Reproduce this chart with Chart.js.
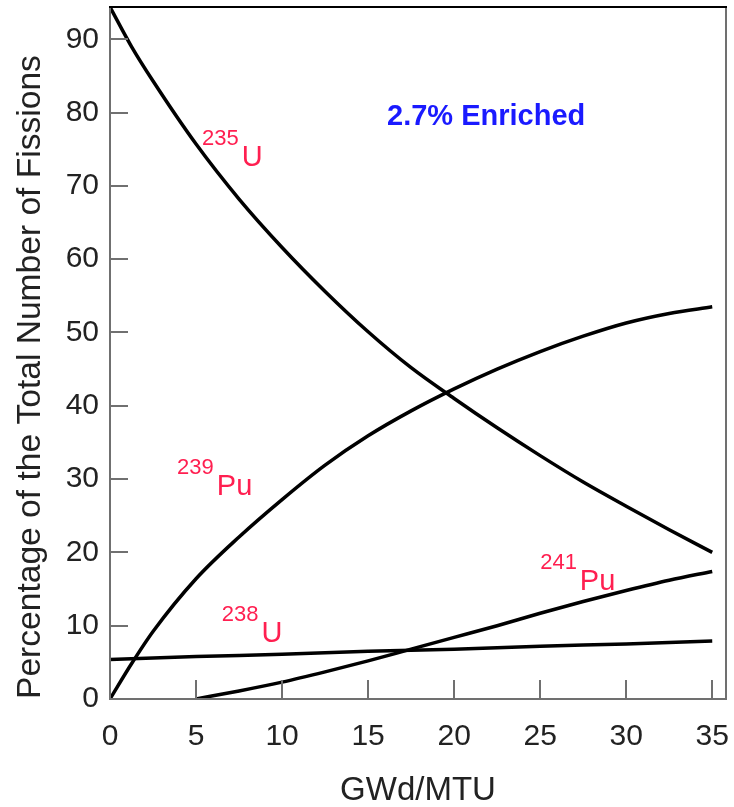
<!DOCTYPE html>
<html>
<head>
<meta charset="utf-8">
<script src="https://cdn.jsdelivr.net/npm/chart.js@4.4.1/dist/chart.umd.min.js"></script>
<style>
html,body{margin:0;padding:0;background:#fff;}
#wrap{width:734px;height:807px;position:relative;}
</style>
</head>
<body>
<div id="wrap"><canvas id="c" width="734" height="807"></canvas></div>
<script>
// ---- Data (burnup in GWd/MTU, percentage of total fissions) ----
const burnupU235 = [0, 1.25, 2.5, 5, 7.5, 10, 12.5, 15, 17.5, 20, 22.5, 25, 27.5, 30, 32.5, 35];
const fissionsU235 = [94.4, 89.0, 84.3, 75.7, 68.2, 61.6, 55.6, 50.1, 45.2, 41.0, 37.0, 33.2, 29.6, 26.3, 23.1, 20.0];

const burnupPu239 = [0, 1.25, 2.5, 5, 7.5, 10, 12.5, 15, 17.5, 20, 22.5, 25, 27.5, 30, 32.5, 35];
const fissionsPu239 = [0, 4.8, 9.2, 16.4, 22.1, 27.2, 31.9, 35.9, 39.3, 42.3, 45.0, 47.4, 49.5, 51.3, 52.6, 53.5];

const burnupU238 = [0, 5, 10, 15, 20, 25, 30, 35];
const fissionsU238 = [5.4, 5.8, 6.1, 6.5, 6.8, 7.2, 7.5, 7.9];

const burnupPu241 = [5, 7.5, 10, 12.5, 15, 17.5, 20, 22.5, 25, 27.5, 30, 32.5, 35];
const fissionsPu241 = [0, 1.1, 2.3, 3.7, 5.2, 6.8, 8.4, 10.0, 11.7, 13.3, 14.8, 16.2, 17.4];

const seriesNames = ['235U', '239Pu', '238U', '241Pu'];
const isotopeMass = ['235', '239', '238', '241'];
const isotopeSymbol = ['U', 'Pu', 'U', 'Pu'];
const xTitle = 'GWd/MTU';
const yTitle = 'Percentage of the Total Number of Fissions';
const noteText = '2.7% Enriched';

// ---- annotation anchors (data coordinates) ----
const labelAnchorX = [5.35, 3.9, 6.5, 25.0];
const labelAnchorY = [72.7, 27.8, 7.8, 14.9];
const noteAnchor = {x: 16.1, y: 78.3};

const FONT = '"Liberation Sans", Arial, Helvetica, sans-serif';

function pts(xs, ys) { return xs.map((x, i) => ({x: x, y: ys[i]})); }

const framePlugin = {
  id: 'frame',
  afterDatasetsDraw(chart) {
    const {ctx, chartArea: a, scales: {x, y}} = chart;
    ctx.save();
    ctx.lineWidth = 2;
    ctx.strokeStyle = '#707070';
    ctx.beginPath();
    y.ticks.forEach(t => {
      if (t.value <= 0) return;
      const py = Math.round(y.getPixelForValue(t.value));
      ctx.moveTo(a.left, py); ctx.lineTo(a.left + 18, py);
    });
    x.ticks.forEach(t => {
      if (t.value <= 0) return;
      const px = Math.round(x.getPixelForValue(t.value));
      ctx.moveTo(px, a.bottom); ctx.lineTo(px, a.bottom - 19);
    });
    ctx.stroke();
    ctx.beginPath();
    ctx.moveTo(a.left, a.top); ctx.lineTo(a.left, a.bottom);
    ctx.lineTo(a.right, a.bottom); ctx.lineTo(a.right, a.top);
    ctx.stroke();
    ctx.strokeStyle = '#000';
    ctx.beginPath();
    ctx.moveTo(a.left - 1, a.top); ctx.lineTo(a.right + 1, a.top);
    ctx.stroke();
    ctx.restore();
  },
  afterDraw(chart) {
    const {ctx, scales: {x, y}} = chart;
    ctx.save();
    ctx.textBaseline = 'alphabetic';
    ctx.textAlign = 'left';
    ctx.fillStyle = '#ff1f50';
    for (let i = 0; i < isotopeMass.length; i++) {
      const px = x.getPixelForValue(labelAnchorX[i]);
      const py = y.getPixelForValue(labelAnchorY[i]);
      ctx.font = '22px ' + FONT;
      ctx.fillText(isotopeMass[i], px, py - 21);
      const w = ctx.measureText(isotopeMass[i]).width;
      ctx.font = '29px ' + FONT;
      ctx.fillText(isotopeSymbol[i], px + w + 3, py);
    }
    ctx.fillStyle = '#1a1aff';
    ctx.font = 'bold 29px ' + FONT;
    ctx.fillText(noteText, x.getPixelForValue(noteAnchor.x), y.getPixelForValue(noteAnchor.y));
    ctx.restore();
  }
};

const lineStyle = {
  borderColor: '#000',
  borderWidth: 3.5,
  pointRadius: 0,
  fill: false,
  cubicInterpolationMode: 'monotone'
};

new Chart(document.getElementById('c'), {
  type: 'line',
  data: {
    datasets: [
      Object.assign({label: seriesNames[0], data: pts(burnupU235, fissionsU235)}, lineStyle),
      Object.assign({label: seriesNames[1], data: pts(burnupPu239, fissionsPu239)}, lineStyle),
      Object.assign({label: seriesNames[2], data: pts(burnupU238, fissionsU238)}, lineStyle),
      Object.assign({label: seriesNames[3], data: pts(burnupPu241, fissionsPu241)}, lineStyle)
    ]
  },
  options: {
    responsive: false,
    devicePixelRatio: 1,
    animation: false,
    layout: {padding: {top: 7, right: 8, left: 0, bottom: 0}},
    plugins: {legend: {display: false}, tooltip: {enabled: false}},
    scales: {
      x: {
        type: 'linear',
        min: 0, max: 35.8,
        afterFit(s) { s.height = 108; s.paddingLeft = 0; s.paddingRight = 0; },
        grid: {display: false, drawTicks: false},
        border: {display: false},
        ticks: {
          stepSize: 5, includeBounds: false, autoSkip: false, maxRotation: 0,
          color: '#222', padding: 20,
          font: {family: FONT, size: 30}
        },
        title: {
          display: true, text: xTitle, color: '#222',
          font: {family: FONT, size: 33, lineHeight: 1},
          padding: {top: 0, bottom: 0}
        }
      },
      y: {
        type: 'linear',
        min: 0, max: 94.4,
        afterFit(s) { s.width = 110; s.paddingTop = 0; s.paddingBottom = 0; },
        grid: {display: false, drawTicks: false},
        border: {display: false},
        ticks: {
          stepSize: 10, includeBounds: false, autoSkip: false,
          color: '#222', padding: 11,
          font: {family: FONT, size: 30}
        },
        title: {
          display: true, text: yTitle, color: '#222', align: 'start',
          font: {family: FONT, size: 33.6, lineHeight: 1},
          padding: {top: 14, bottom: 0}
        }
      }
    }
  },
  plugins: [framePlugin]
});
</script>
</body>
</html>
